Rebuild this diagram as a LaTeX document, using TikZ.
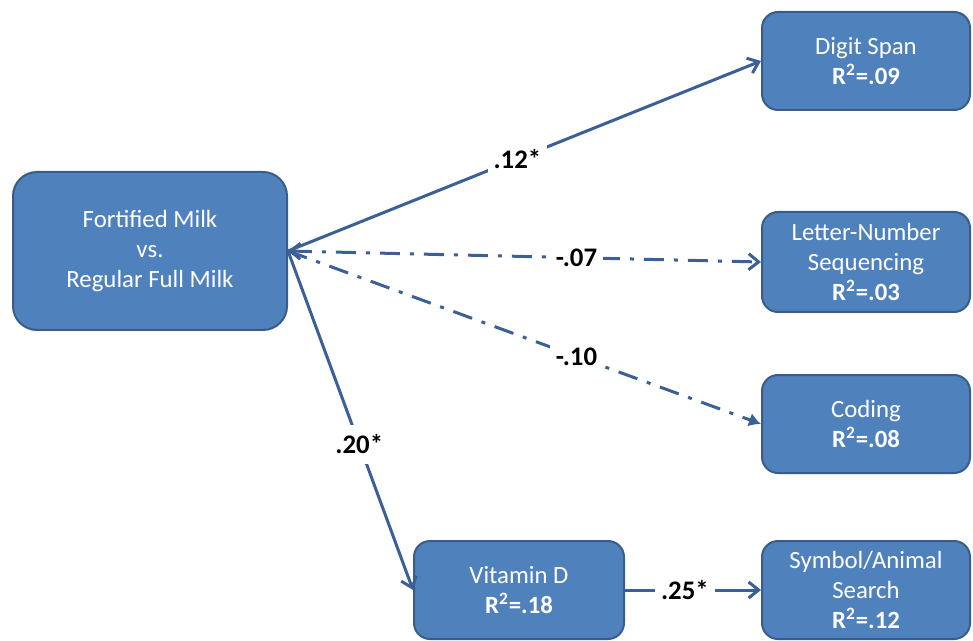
\documentclass[tikz,border=0pt]{standalone}
\usepackage{fontspec}
\setmainfont{Carlito}
\usepackage{xcolor}
\definecolor{boxblue}{RGB}{79, 129, 189}
\definecolor{boxedge}{RGB}{56, 93, 138}
\definecolor{pathblue}{RGB}{58, 96, 150}
\usetikzlibrary{positioning,arrows.meta}

\tikzset{
    varbox/.style={draw=boxedge, line width=1pt, fill=boxblue, rounded corners=8pt,
        text=white, align=center, minimum width=104pt, minimum height=49pt,
        inner sep=2pt, font=\fontsize{12.4}{15}\selectfont},
    effect/.style={pathblue, line width=1.5pt, -{Straight Barb[length=5pt,width=8pt]}},
    weak/.style={effect, dash pattern=on 10pt off 5pt on 2pt off 5pt},
    coef/.style={fill=white, inner sep=3pt, text=black, font=\fontsize{13.4}{16}\selectfont\bfseries}
}
\newcommand{\rsq}[1]{\textbf{R\textsuperscript{2}=#1}}

\begin{document}
\begin{tikzpicture}[x=0.5pt, y=-0.5pt]
    \useasboundingbox (0,0) rectangle (973,641);

    % Predictor
    \node[varbox, minimum width=137pt, minimum height=79pt, rounded corners=12pt] (milk) at (150,251)
        {Fortified Milk\\vs.\\Regular Full Milk};

    % Outcomes
    \node[varbox] (digit) at (866,61) {Digit Span\\\rsq{.09}};
    \node[varbox, minimum height=50pt] (letter) at (866,262) {Letter-Number\\Sequencing\\\rsq{.03}};
    \node[varbox] (coding) at (866,424) {Coding\\\rsq{.08}};
    \node[varbox] (symbol) at (866,590) {Symbol/Animal\\Search\\\rsq{.12}};

    % Mediator
    \node[varbox, minimum width=105pt] (vitd) at (519,590) {Vitamin D\\\rsq{.18}};

    % Paths
    \draw[effect] (milk.east) -- node[coef, pos=0.485] {.12*} (digit.west);
    \draw[weak, {Straight Barb[length=5pt,width=8pt]}-{Straight Barb[length=5pt,width=8pt]}]
        (milk.east) -- node[coef, pos=0.61] {-.07} (letter.west);
    \draw[weak, -{Latex[length=6pt,width=7pt]}] (milk.east) -- node[coef, pos=0.61] {-.10} (coding.west);
    \draw[effect] (milk.east) -- node[coef, pos=0.57, inner sep=5pt] {.20*} (vitd.west);
    \draw[effect] (vitd.east) -- node[coef, pos=0.44] {.25*} (symbol.west);
\end{tikzpicture}
\end{document}
